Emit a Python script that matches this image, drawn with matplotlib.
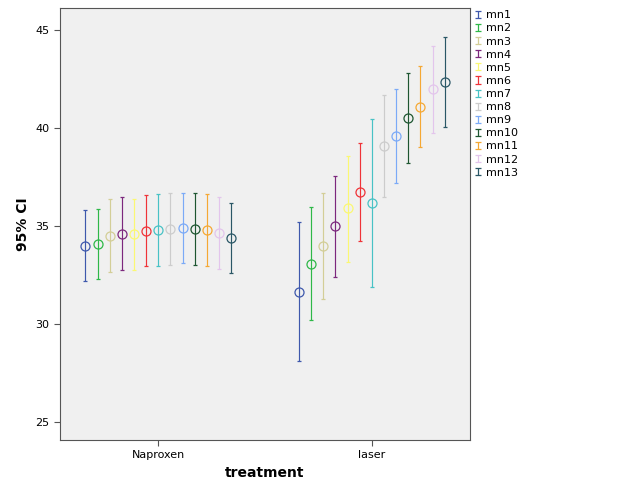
import matplotlib
matplotlib.use("Agg")
import matplotlib.pyplot as plt
from matplotlib.legend_handler import HandlerErrorbar

groups = ["Naproxen", "laser"]
series = ["mn1", "mn2", "mn3", "mn4", "mn5", "mn6", "mn7",
          "mn8", "mn9", "mn10", "mn11", "mn12", "mn13"]

# mean, lower, upper per series (Naproxen, laser)
naproxen_mean = [34.0, 34.1, 34.49, 34.59, 34.59, 34.74, 34.80, 34.85, 34.90, 34.85, 34.80, 34.64, 34.39]
naproxen_low = [32.2, 32.3, 32.64, 32.74, 32.76, 32.94, 32.97, 32.99, 33.13, 32.99, 32.97, 32.82, 32.62]
naproxen_high = [35.8, 35.88, 36.36, 36.48, 36.38, 36.57, 36.62, 36.67, 36.67, 36.68, 36.62, 36.48, 36.17]

laser_mean = [31.65, 33.08, 33.98, 34.98, 35.90, 36.73, 36.16, 39.05, 39.59, 40.48, 41.06, 41.96, 42.33]
laser_low = [28.11, 30.22, 31.26, 32.41, 33.18, 34.23, 31.89, 36.46, 37.19, 38.20, 39.0, 39.76, 40.02]
laser_high = [35.20, 35.95, 36.70, 37.55, 38.57, 39.22, 40.44, 41.67, 41.96, 42.77, 43.13, 44.17, 44.64]

colors = ["#3E58AC", "#2EB848", "#D3CE97", "#7C287D", "#FBF873", "#EF3338", "#48C2C5",
          "#CCCCCC", "#7BAAF7", "#1E5631", "#F5A834", "#E3C5EC", "#2A5766"]

means = [naproxen_mean, laser_mean]
lows = [naproxen_low, laser_low]
highs = [naproxen_high, laser_high]

fig = plt.figure(figsize=(6.29, 5.04), dpi=100)
ax = fig.add_axes([0.0954, 0.127, 0.652, 0.857])
ax.set_facecolor("#F0F0F0")

step = 0.0568
n = len(series)
for gi in range(len(groups)):
    for si in range(n):
        x = gi + (si - (n - 1) / 2) * step
        m = means[gi][si]
        ax.errorbar([x], [m],
                    yerr=[[m - lows[gi][si]], [highs[gi][si] - m]],
                    fmt="o", mfc="none", mec=colors[si], ecolor=colors[si],
                    ms=6.5, mew=0.9, elinewidth=0.85, capsize=1.6, capthick=0.85)

# legend handles: bare "I" error bars, nothing drawn in the axes
handles = []
for si in range(n):
    h = ax.errorbar([float("nan")], [float("nan")], yerr=[1.0], fmt="none",
                    ecolor=colors[si], elinewidth=0.9, capsize=2.0, capthick=0.9)
    handles.append(h)

ax.set_xlim(-0.46, 1.46)
ax.set_ylim(24.1, 46.1)
ax.set_xticks(range(len(groups)))
ax.set_xticklabels(groups, fontsize=8)
ax.set_yticks([25, 30, 35, 40, 45])
ax.tick_params(axis="y", labelsize=8, length=4, color="#555555")
ax.tick_params(axis="x", length=4, color="#555555")
for s in ax.spines.values():
    s.set_color("#555555")
ax.set_xlabel("treatment", fontsize=10, fontweight="bold")
ax.set_ylabel("95% CI", fontsize=10, fontweight="bold")

ax.legend(handles, series, loc="upper left", bbox_to_anchor=(1.0, 1.005),
          frameon=False, fontsize=8, handlelength=0.6, handletextpad=0.45,
          labelspacing=0.28, borderaxespad=0.0,
          handler_map={type(handles[0]): HandlerErrorbar(yerr_size=0.32)})

fig.savefig("out.png", dpi=100)
